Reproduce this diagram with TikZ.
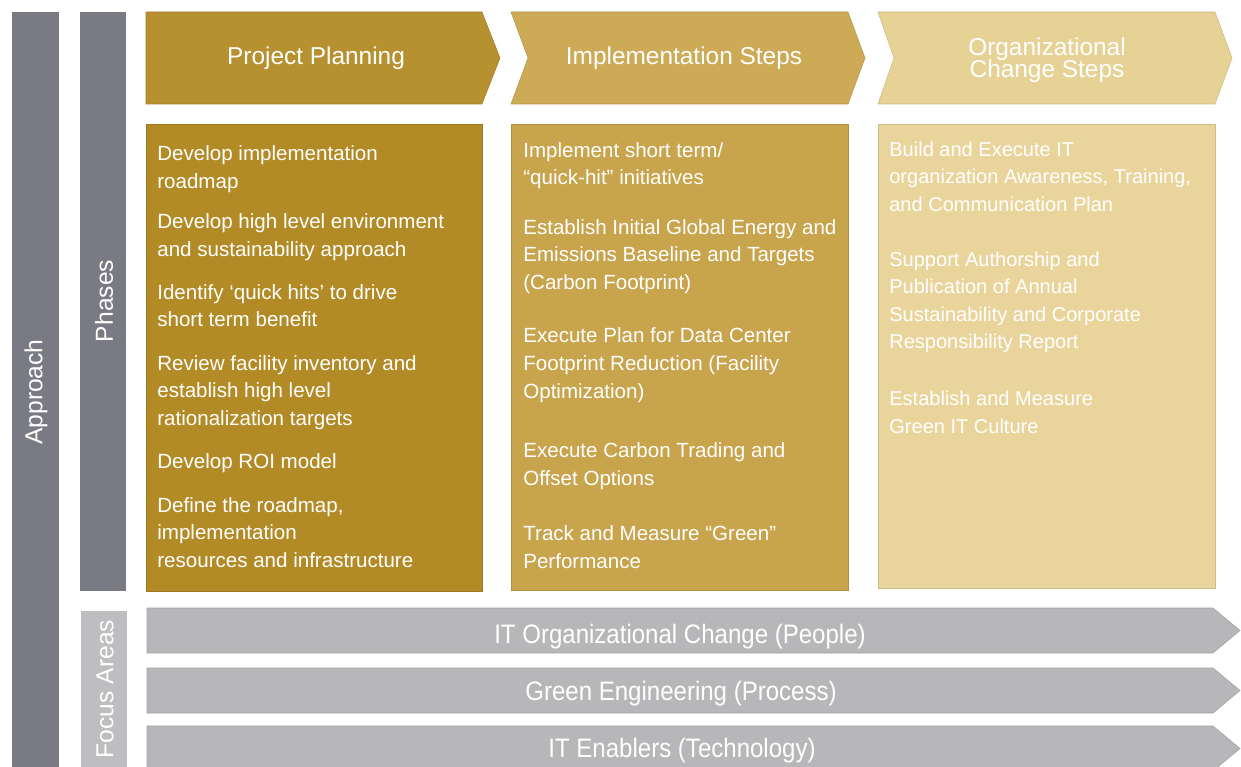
\documentclass[tikz,border=0pt]{standalone}
\usepackage{fontspec}
\setmainfont{Liberation Sans}
\newfontfamily\focusfont{Liberation Sans}[FakeStretch=0.9]
\usetikzlibrary{positioning}

\definecolor{bargray}{RGB}{121,122,131}
\definecolor{focusbar}{RGB}{190,190,193}
\definecolor{focusgray}{RGB}{183,183,185}
\definecolor{goldA}{RGB}{183,145,47}
\definecolor{goldAbody}{RGB}{178,139,39}
\definecolor{goldB}{RGB}{204,170,86}
\definecolor{goldBbody}{RGB}{200,164,77}
\definecolor{goldC}{RGB}{231,210,150}
\definecolor{goldCbody}{RGB}{233,213,156}

\tikzset{
  sidelabel/.style={rotate=90, text=white, inner sep=0pt,
    font=\fontsize{14pt}{16pt}\selectfont},
  headtext/.style={text=white, align=center, anchor=base, inner sep=0pt,
    font=\fontsize{13.9pt}{13pt}\selectfont},
  % anchored at the baseline of the last line
  bodytext/.style={text=white, align=left, anchor=base west, inner sep=0pt,
    font=\fontsize{11.7pt}{15.6pt}\selectfont},
  focustext/.style={text=white, anchor=base, inner sep=0pt,
    font=\focusfont\fontsize{15.2pt}{18pt}\selectfont},
  edge/.style={draw=#1!88!black, line width=0.3pt},
}

\begin{document}
\begin{tikzpicture}[x=0.02cm,y=-0.02cm]
  \useasboundingbox (0,0) rectangle (1241,767);
  \clip (0,0) rectangle (1241,767);

  % side bars
  \fill[bargray] (12,12) rectangle (59,767);
  \fill[bargray] (80,12) rectangle (126,591);
  \fill[focusbar] (81,611) rectangle (127,767);
  \node[sidelabel] (approach) at (36,392) {Approach};
  \node[sidelabel] (phases) at (104,301) {Phases};
  \node[sidelabel] (focus) at (105,689) {Focus Areas};

  % phase headers
  \fill[goldA, edge=goldA] (146,12) -- (482,12) -- (500,58) -- (482,104) -- (146,104) -- cycle;
  \fill[goldB, edge=goldB] (511,12) -- (848,12) -- (865,58) -- (848,104) -- (511,104) -- (528,58) -- cycle;
  \fill[goldC, edge=goldC] (878,12) -- (1215,12) -- (1232,58) -- (1215,104) -- (878,104) -- (894,58) -- cycle;
  \node[headtext] (planning) at (316,65) {Project Planning};
  \node[headtext] (implementation) at (684,65) {Implementation Steps};
  \node[headtext] (orgchange) at (1047,78) {Organizational\\Change Steps};

  % phase contents
  \fill[goldAbody, edge=goldAbody] (146,124) rectangle (482,591);
  \fill[goldBbody, edge=goldBbody] (511,124) rectangle (848,590);
  \fill[goldCbody, edge=goldCbody] (878,124) rectangle (1215,588);

  \node[bodytext] (planitems) at (157,567) {Develop implementation\\roadmap\\[7.7pt]
    Develop high level environment\\and sustainability approach\\[8.8pt]
    Identify ‘quick hits’ to drive\\short term benefit\\[9.4pt]
    Review facility inventory and\\establish high level\\rationalization targets\\[8.8pt]
    Develop ROI model\\[9.4pt]
    Define the roadmap,\\implementation\\resources and infrastructure};

  \node[bodytext, font=\fontsize{11.7pt}{15.9pt}\selectfont] (implitems) at (523,568)
    {Implement short term/\\“quick-hit” initiatives\\[12pt]
    Establish Initial Global Energy and\\Emissions Baseline and Targets\\(Carbon Footprint)\\[14pt]
    Execute Plan for Data Center\\Footprint Reduction (Facility\\Optimization)\\[18pt]
    Execute Carbon Trading and\\Offset Options\\[15pt]
    Track and Measure “Green”\\Performance};

  \node[bodytext, font=\fontsize{11.4pt}{15.7pt}\selectfont] (orgitems) at (889,433)
    {Build and Execute IT\\organization Awareness, Training,\\and Communication Plan\\[15.5pt]
    Support Authorship and\\Publication of Annual\\Sustainability and Corporate\\Responsibility Report\\[16.5pt]
    Establish and Measure\\Green IT Culture};

  % focus areas
  \foreach \top in {608,668,726}
    \fill[focusgray, edge=focusgray] (147,\top) -- (1213,\top) -- (1240,\top+22.5)
      -- (1213,\top+45) -- (147,\top+45) -- cycle;
  \node[focustext] (people) at (680,643) {IT Organizational Change (People)};
  \node[focustext] (process) at (681,700) {Green Engineering (Process)};
  \node[focustext] (technology) at (682,757) {IT Enablers (Technology)};
\end{tikzpicture}
\end{document}
